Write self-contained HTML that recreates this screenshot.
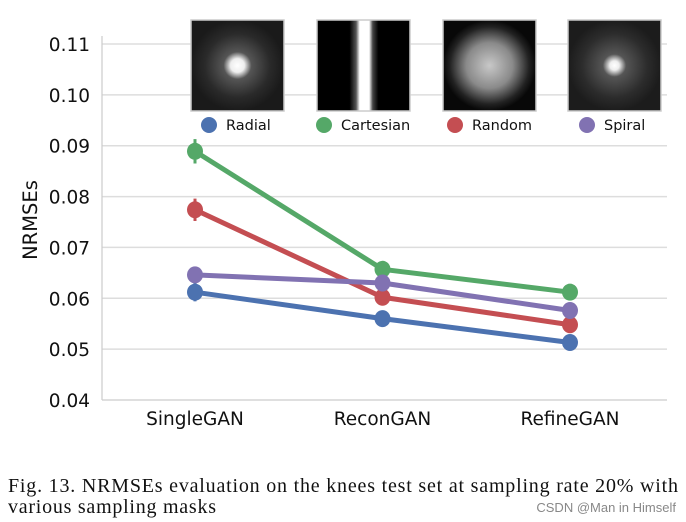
<!DOCTYPE html>
<html><head><meta charset="utf-8"><style>
html,body{margin:0;padding:0;background:#fff;width:686px;height:522px;overflow:hidden}
</style></head><body>
<svg width="686" height="522" viewBox="0 0 686 522" xmlns="http://www.w3.org/2000/svg">
<defs>
<radialGradient id="gRad" cx="50%" cy="50%" r="50%"><stop offset="0" stop-color="#fff"/><stop offset="0.15" stop-color="#eee"/><stop offset="0.3" stop-color="#555"/><stop offset="0.7" stop-color="#2a2a2a"/><stop offset="1" stop-color="#1a1a1a"/></radialGradient>
<radialGradient id="gRnd" cx="50%" cy="50%" r="50%"><stop offset="0" stop-color="#c8c8c8"/><stop offset="0.5" stop-color="#8a8a8a"/><stop offset="0.85" stop-color="#222"/><stop offset="1" stop-color="#080808"/></radialGradient>
<radialGradient id="gSp" cx="50%" cy="50%" r="50%"><stop offset="0" stop-color="#fff"/><stop offset="0.1" stop-color="#eee"/><stop offset="0.25" stop-color="#555"/><stop offset="0.7" stop-color="#2c2c2c"/><stop offset="1" stop-color="#1c1c1c"/></radialGradient>
<linearGradient id="gCar" x1="0" x2="1"><stop offset="0" stop-color="#000"/><stop offset="0.35" stop-color="#000"/><stop offset="0.42" stop-color="#555"/><stop offset="0.46" stop-color="#fff"/><stop offset="0.56" stop-color="#fff"/><stop offset="0.6" stop-color="#444"/><stop offset="0.66" stop-color="#000"/><stop offset="1" stop-color="#000"/></linearGradient>
</defs>
<g id="grid"></g>
<line x1="102" y1="36" x2="102" y2="400" stroke="#ccc" stroke-width="1.2"/>
<line x1="102" y1="400" x2="667" y2="400" stroke="#ccc" stroke-width="1.2"/>
<g id="yticks" font-family="DejaVu Sans, Liberation Sans, sans-serif" font-size="18.5" fill="#111" text-anchor="end"></g>
<g id="xticks" font-family="DejaVu Sans, Liberation Sans, sans-serif" font-size="18.5" fill="#111" text-anchor="middle"></g>
<text transform="translate(37,220) rotate(-90)" font-family="DejaVu Sans, Liberation Sans, sans-serif" font-size="19.5" fill="#111" text-anchor="middle">NRMSEs</text>
<g id="series"></g>
<g>
<rect x="191" y="20" width="93" height="91" fill="url(#gRad)" stroke="#ccc" stroke-width="1.5"/>
<rect x="317" y="20" width="93" height="91" fill="url(#gCar)" stroke="#ccc" stroke-width="1.5"/>
<rect x="443" y="20" width="93" height="91" fill="url(#gRnd)" stroke="#ccc" stroke-width="1.5"/>
<rect x="568" y="20" width="93" height="91" fill="url(#gSp)" stroke="#ccc" stroke-width="1.5"/>
</g>
<g id="legend" font-family="DejaVu Sans, Liberation Sans, sans-serif" font-size="14.5" fill="#111"></g>
<text x="8" y="492" font-family="Liberation Serif, serif" font-size="20" fill="#111" textLength="670" lengthAdjust="spacing">Fig. 13.  NRMSEs evaluation on the knees test set at sampling rate 20% with</text>
<text x="8" y="513" font-family="Liberation Serif, serif" font-size="20" fill="#111" textLength="208" lengthAdjust="spacing">various sampling masks</text>
<text x="676" y="512" font-family="Liberation Sans, sans-serif" font-size="13" fill="#888" text-anchor="end">CSDN @Man in Himself</text>
</svg>
<script>
const categories = ["SingleGAN","ReconGAN","RefineGAN"];
const seriesNames = ["Radial","Cartesian","Random","Spiral"];
const radial = [0.0612,0.0560,0.0513];
const cartesian = [0.0889,0.0657,0.0612];
const random = [0.0774,0.0602,0.0548];
const spiral = [0.0646,0.0630,0.0576];
const errRadial = [0.0018,0.0012,0.0010];
const errCartesian = [0.0024,0.0012,0.0014];
const errRandom = [0.0022,0.0016,0.0016];
const errSpiral = [0.0016,0.0012,0.0014];
const yTicks = ["0.04","0.05","0.06","0.07","0.08","0.09","0.10","0.11"];
const NS="http://www.w3.org/2000/svg";
const y = v => 400 - (v-0.04)/0.07*356;
const x = i => 195 + i*187.5;
function mk(tag, attrs, parent){const e=document.createElementNS(NS,tag);for(const k in attrs)e.setAttribute(k,attrs[k]);parent.appendChild(e);return e;}
const grid=document.getElementById('grid'), yt=document.getElementById('yticks'), xt=document.getElementById('xticks');
yTicks.forEach(t=>{const v=parseFloat(t);
 if(v>0.04){const l=mk('line',{x1:102,x2:667,y1:y(v),y2:y(v),stroke:'#ddd','stroke-width':1.5},grid);
 
 }
 const tx=mk('text',{x:90,y:y(v)+7},yt);tx.textContent=t;
 
 });
categories.forEach((c,i)=>{const tx=mk('text',{x:x(i),y:425},xt);tx.textContent=c;
 
 });
const colors=["#4c72b0","#55a868","#c44e52","#8172b2"];
const data=[radial,cartesian,random,spiral], errs=[errRadial,errCartesian,errRandom,errSpiral];
const sg=document.getElementById('series');
data.forEach((d,s)=>{
 const g=mk('g',{},sg);
 
 
 const p=mk('polyline',{points:d.map((v,i)=>x(i)+','+y(v)).join(' '),fill:'none',stroke:colors[s],'stroke-width':5,'stroke-linejoin':'round'},g);
 
 
 d.forEach((v,i)=>{
  const e=mk('line',{x1:x(i),x2:x(i),y1:y(v+errs[s][i]),y2:y(v-errs[s][i]),stroke:colors[s],'stroke-width':3},g);
  
  
  const c=mk('ellipse',{cx:x(i),cy:y(v),rx:8,ry:8.5,fill:colors[s]},g);
  
  
 });
});
const lg=document.getElementById('legend');
const lx=[209,324,455,587];
seriesNames.forEach((n,s)=>{
 const c=mk('circle',{cx:lx[s],cy:125,r:8,fill:colors[s]},lg);
 
 
 const t=mk('text',{x:lx[s]+17,y:130},lg);t.textContent=n;
 
 
});
</script>
</body></html>
